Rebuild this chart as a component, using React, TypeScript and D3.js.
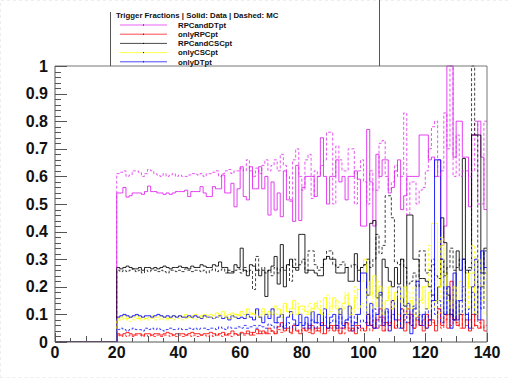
import { useEffect, useRef } from "react"
import * as d3 from "d3"

// bins of width 1 from pt = 20 to 139 (empty below 20)
const firstBin = 20

const rpcAndDtData = [
  0.54, 0.54, 0.56, 0.525, 0.53, 0.54, 0.54, 0.54, 0.535, 0.545,
  0.565, 0.545, 0.545, 0.54, 0.54, 0.535, 0.54, 0.535, 0.54, 0.545,
  0.545, 0.545, 0.55, 0.527, 0.545, 0.545, 0.545, 0.563, 0.54, 0.527,
  0.527, 0.563, 0.555, 0.555, 0.605, 0.54, 0.54, 0.575, 0.49, 0.555,
  0.635, 0.527, 0.515, 0.635, 0.555, 0.555, 0.635, 0.555, 0.6, 0.46,
  0.58, 0.478, 0.54, 0.454, 0.62, 0.515, 0.515, 0.437, 0.64, 0.44,
  0.56, 0.6, 0.6, 0.6, 0.527, 0.6, 0.74, 0.6, 0.5, 0.6,
  0.6, 0.66, 0.58, 0.6, 0.515, 0.6, 0.6, 0.62, 0.59, 0.42,
  0.42, 0.77, 0.58, 0.42, 0.68, 0.6, 0.66, 0.66, 0.54, 0.56,
  0.62, 0.66, 0.48, 0.53, 0.6, 0.6, 0.6, 0.6, 0.75, 0.75,
  0.75, 0.66, 0.67, 0.6, 0.66, 0.35, 0.42, 1.0, 1.0, 0.67,
  0.8, 0.8, 0.67, 0.67, 0.49, 0.75, 0.75, 0.8, 0.67, 0.48,
]
const rpcAndDtMC = [
  0.61, 0.615, 0.62, 0.6, 0.605, 0.62, 0.62, 0.615, 0.6, 0.61,
  0.625, 0.62, 0.61, 0.605, 0.6, 0.61, 0.6, 0.605, 0.61, 0.6,
  0.605, 0.6, 0.6, 0.605, 0.61, 0.61, 0.605, 0.61, 0.6, 0.61,
  0.61, 0.615, 0.62, 0.6, 0.61, 0.62, 0.625, 0.61, 0.62, 0.62,
  0.63, 0.62, 0.66, 0.62, 0.6, 0.63, 0.61, 0.64, 0.66, 0.62,
  0.64, 0.66, 0.62, 0.68, 0.64, 0.6, 0.51, 0.66, 0.7, 0.6,
  0.55, 0.66, 0.68, 0.52, 0.62, 0.6, 0.64, 0.66, 0.76, 0.76,
  0.5, 0.71, 0.66, 0.62, 0.62, 0.7, 0.7, 0.5, 0.62, 0.66,
  0.58, 0.5, 0.62, 0.55, 0.55, 0.72, 0.73, 0.6, 0.55, 0.58,
  0.64, 0.6, 0.6, 0.83, 0.46, 0.58, 0.58, 0.5, 0.55, 0.56,
  0.62, 0.7, 0.78, 0.8, 0.6, 0.62, 0.83, 0.7, 1.0, 0.6,
  0.75, 0.6, 0.62, 0.62, 0.6, 0.62, 0.8, 0.5, 0.5, 0.8,
]
const onlyRpcData = [
  0.03, 0.025, 0.03, 0.035, 0.03, 0.025, 0.03, 0.03, 0.025, 0.03,
  0.03, 0.025, 0.03, 0.03, 0.025, 0.03, 0.035, 0.03, 0.025, 0.03,
  0.03, 0.03, 0.025, 0.03, 0.035, 0.03, 0.03, 0.025, 0.03, 0.03,
  0.035, 0.03, 0.025, 0.03, 0.035, 0.025, 0.03, 0.04, 0.03, 0.025,
  0.035, 0.03, 0.04, 0.025, 0.035, 0.045, 0.03, 0.04, 0.03, 0.05,
  0.04, 0.03, 0.055, 0.07, 0.04, 0.05, 0.035, 0.06, 0.04, 0.03,
  0.05, 0.04, 0.06, 0.03, 0.05, 0.04, 0.07, 0.03, 0.05, 0.06,
  0.04, 0.06, 0.03, 0.05, 0.07, 0.04, 0.05, 0.03, 0.06, 0.05,
  0.04, 0.1, 0.06, 0.05, 0.08, 0.12, 0.04, 0.07, 0.06, 0.15,
  0.05, 0.08, 0.12, 0.04, 0.07, 0.1, 0.05, 0.08, 0.06, 0.04,
  0.1, 0.06, 0.08, 0.04, 0.12, 0.06, 0.1, 0.05, 0.22, 0.08,
  0.06, 0.1, 0.05, 0.08, 0.04, 0.1, 0.06, 0.05, 0.08, 0.04,
]
const onlyRpcMC = [
  0.025, 0.02, 0.025, 0.02, 0.025, 0.02, 0.025, 0.025, 0.02, 0.025,
  0.02, 0.025, 0.02, 0.025, 0.02, 0.025, 0.025, 0.02, 0.025, 0.02,
  0.025, 0.02, 0.025, 0.025, 0.02, 0.025, 0.02, 0.025, 0.025, 0.02,
  0.025, 0.02, 0.03, 0.025, 0.02, 0.03, 0.025, 0.02, 0.03, 0.025,
  0.03, 0.025, 0.03, 0.035, 0.025, 0.03, 0.04, 0.03, 0.035, 0.03,
  0.04, 0.03, 0.045, 0.035, 0.05, 0.04, 0.03, 0.05, 0.04, 0.045,
  0.04, 0.05, 0.035, 0.06, 0.04, 0.05, 0.03, 0.06, 0.04, 0.05,
  0.06, 0.04, 0.05, 0.03, 0.07, 0.05, 0.04, 0.06, 0.05, 0.04,
  0.05, 0.07, 0.04, 0.08, 0.05, 0.06, 0.09, 0.04, 0.07, 0.05,
  0.06, 0.1, 0.05, 0.08, 0.12, 0.06, 0.05, 0.09, 0.06, 0.08,
  0.05, 0.1, 0.07, 0.06, 0.12, 0.05, 0.08, 0.1, 0.06, 0.09,
  0.07, 0.05, 0.1, 0.06, 0.08, 0.05, 0.1, 0.07, 0.05, 0.06,
]
const rpcAndCscData = [
  0.27, 0.265, 0.27, 0.275, 0.27, 0.265, 0.265, 0.27, 0.26, 0.27,
  0.27, 0.265, 0.27, 0.265, 0.27, 0.275, 0.27, 0.265, 0.27, 0.27,
  0.275, 0.27, 0.27, 0.265, 0.275, 0.27, 0.27, 0.28, 0.275, 0.27,
  0.27, 0.28, 0.275, 0.29, 0.27, 0.27, 0.25, 0.25, 0.28, 0.27,
  0.34, 0.26, 0.24, 0.28, 0.275, 0.26, 0.24, 0.26, 0.165, 0.26,
  0.275, 0.31, 0.21, 0.353, 0.2, 0.28, 0.3, 0.27, 0.26, 0.39,
  0.39, 0.25, 0.26, 0.26, 0.25, 0.24, 0.24, 0.3, 0.31, 0.3,
  0.3, 0.25, 0.25, 0.25, 0.27, 0.22, 0.22, 0.32, 0.22, 0.27,
  0.28, 0.17, 0.43, 0.44, 0.16, 0.17, 0.3, 0.27, 0.22, 0.2,
  0.27, 0.21, 0.3, 0.13, 0.46, 0.46, 0.3, 0.3, 0.23, 0.23,
  0.22, 0.2, 0.17, 0.15, 0.2, 0.45, 0.36, 0.17, 0.1, 0.08,
  0.33, 0.26, 0.665, 0.26, 0.26, 0.75, 0.75, 0.75, 0.25, 0.34,
]
const rpcAndCscMC = [
  0.26, 0.255, 0.26, 0.255, 0.26, 0.265, 0.255, 0.26, 0.25, 0.26,
  0.255, 0.26, 0.26, 0.255, 0.26, 0.255, 0.25, 0.26, 0.26, 0.255,
  0.26, 0.255, 0.265, 0.26, 0.255, 0.26, 0.26, 0.255, 0.26, 0.25,
  0.26, 0.265, 0.255, 0.26, 0.265, 0.25, 0.26, 0.255, 0.26, 0.265,
  0.25, 0.27, 0.255, 0.26, 0.19, 0.31, 0.26, 0.27, 0.25, 0.26,
  0.24, 0.27, 0.25, 0.27, 0.26, 0.28, 0.22, 0.3, 0.27, 0.28,
  0.3, 0.26, 0.33, 0.33, 0.28, 0.26, 0.27, 0.3, 0.33, 0.33,
  0.28, 0.27, 0.28, 0.29, 0.27, 0.27, 0.28, 0.28, 0.26, 0.27,
  0.28, 0.3, 0.27, 0.3, 0.39, 0.32, 0.35, 0.53, 0.53, 0.45,
  0.29, 0.28, 0.3, 0.27, 0.21, 0.22, 0.25, 0.2, 0.33, 0.33,
  0.25, 0.26, 0.28, 0.24, 0.23, 0.3, 0.24, 0.27, 0.34, 0.26,
  0.27, 0.3, 0.3, 0.25, 0.27, 1.0, 0.75, 0.2, 0.2, 0.33,
]
const onlyCscData = [
  0.085, 0.09, 0.095, 0.085, 0.09, 0.09, 0.095, 0.085, 0.09, 0.085,
  0.09, 0.095, 0.09, 0.09, 0.095, 0.09, 0.085, 0.09, 0.095, 0.09,
  0.095, 0.09, 0.1, 0.09, 0.095, 0.1, 0.09, 0.095, 0.1, 0.095,
  0.1, 0.095, 0.105, 0.1, 0.11, 0.095, 0.1, 0.105, 0.1, 0.095,
  0.11, 0.1, 0.12, 0.105, 0.1, 0.115, 0.09, 0.12, 0.1, 0.11,
  0.1, 0.13, 0.12, 0.09, 0.14, 0.11, 0.12, 0.15, 0.1, 0.13,
  0.13, 0.11, 0.1, 0.12, 0.14, 0.12, 0.1, 0.16, 0.1, 0.13,
  0.16, 0.12, 0.1, 0.14, 0.17, 0.1, 0.12, 0.16, 0.19, 0.22,
  0.3, 0.22, 0.17, 0.24, 0.13, 0.2, 0.1, 0.15, 0.2, 0.12,
  0.18, 0.1, 0.16, 0.2, 0.12, 0.15, 0.1, 0.08, 0.15, 0.2,
  0.12, 0.18, 0.43, 0.43, 0.2, 0.35, 0.25, 0.1, 0.15, 0.2,
  0.1, 0.22, 0.15, 0.25, 0.2, 0.25, 0.1, 0.2, 0.15, 0.25,
]
const onlyCscMC = [
  0.08, 0.08, 0.085, 0.08, 0.075, 0.08, 0.085, 0.08, 0.08, 0.085,
  0.08, 0.085, 0.08, 0.08, 0.085, 0.08, 0.08, 0.085, 0.08, 0.085,
  0.085, 0.08, 0.085, 0.09, 0.085, 0.08, 0.085, 0.09, 0.085, 0.09,
  0.09, 0.085, 0.09, 0.095, 0.09, 0.09, 0.085, 0.095, 0.09, 0.1,
  0.095, 0.1, 0.09, 0.1, 0.105, 0.09, 0.1, 0.11, 0.095, 0.1,
  0.11, 0.1, 0.12, 0.1, 0.13, 0.11, 0.1, 0.12, 0.14, 0.1,
  0.12, 0.1, 0.14, 0.11, 0.13, 0.15, 0.1, 0.12, 0.17, 0.11,
  0.13, 0.15, 0.1, 0.12, 0.18, 0.13, 0.1, 0.2, 0.12, 0.14,
  0.1, 0.2, 0.18, 0.12, 0.22, 0.16, 0.1, 0.15, 0.18, 0.12,
  0.16, 0.2, 0.14, 0.1, 0.18, 0.12, 0.2, 0.1, 0.16, 0.14,
  0.2, 0.35, 0.12, 0.15, 0.1, 0.38, 0.2, 0.15, 0.12, 0.2,
  0.15, 0.1, 0.2, 0.12, 0.25, 0.35, 0.1, 0.3, 0.2, 0.1,
]
const onlyDtData = [
  0.09, 0.095, 0.1, 0.095, 0.09, 0.095, 0.1, 0.095, 0.09, 0.095,
  0.095, 0.09, 0.095, 0.1, 0.095, 0.09, 0.095, 0.09, 0.095, 0.09,
  0.095, 0.09, 0.09, 0.095, 0.09, 0.095, 0.09, 0.085, 0.095, 0.09,
  0.09, 0.085, 0.09, 0.095, 0.085, 0.09, 0.08, 0.095, 0.09, 0.085,
  0.09, 0.085, 0.1, 0.09, 0.08, 0.12, 0.09, 0.07, 0.1, 0.085,
  0.12, 0.07, 0.09, 0.1, 0.05, 0.09, 0.11, 0.08, 0.06, 0.1,
  0.06, 0.09, 0.05, 0.11, 0.07, 0.1, 0.06, 0.12, 0.05, 0.09,
  0.1, 0.05, 0.12, 0.06, 0.08, 0.13, 0.04, 0.07, 0.1, 0.25,
  0.25, 0.06, 0.14, 0.05, 0.1, 0.18, 0.06, 0.12, 0.04, 0.15,
  0.08, 0.2, 0.05, 0.1, 0.14, 0.03, 0.12, 0.22, 0.06, 0.1,
  0.05, 0.08, 0.15, 0.66, 0.66, 0.3, 0.1, 0.2, 0.05, 0.25,
  0.08, 0.15, 0.3, 0.1, 0.05, 0.2, 0.3, 0.08, 0.33, 0.27,
]
const onlyDtMC = [
  0.045, 0.05, 0.045, 0.04, 0.045, 0.05, 0.045, 0.045, 0.04, 0.05,
  0.045, 0.05, 0.045, 0.05, 0.045, 0.04, 0.045, 0.05, 0.045, 0.045,
  0.05, 0.045, 0.045, 0.05, 0.045, 0.05, 0.045, 0.05, 0.05, 0.045,
  0.05, 0.05, 0.045, 0.055, 0.05, 0.045, 0.055, 0.05, 0.05, 0.055,
  0.05, 0.06, 0.05, 0.055, 0.06, 0.05, 0.06, 0.055, 0.05, 0.065,
  0.06, 0.05, 0.07, 0.055, 0.06, 0.07, 0.05, 0.065, 0.06, 0.07,
  0.05, 0.07, 0.06, 0.08, 0.05, 0.07, 0.06, 0.09, 0.05, 0.07,
  0.08, 0.06, 0.1, 0.05, 0.07, 0.09, 0.06, 0.1, 0.05, 0.08,
  0.07, 0.1, 0.06, 0.12, 0.05, 0.09, 0.07, 0.11, 0.06, 0.1,
  0.08, 0.05, 0.12, 0.07, 0.1, 0.06, 0.13, 0.08, 0.1, 0.06,
  0.12, 0.08, 0.3, 0.1, 0.15, 0.07, 0.2, 0.1, 0.12, 0.08,
  0.15, 0.1, 0.2, 0.08, 0.12, 0.18, 0.1, 0.2, 0.12, 0.25,
]

const legendNames = ["RPCandDTpt", "onlyRPCpt", "RPCandCSCpt", "onlyCSCpt", "onlyDTpt"]
const colors = ["#e020f0", "#ff0000", "#000000", "#ffff00", "#0000ff"]
const dataSeries = [rpcAndDtData, onlyRpcData, rpcAndCscData, onlyCscData, onlyDtData]
const mcSeries = [rpcAndDtMC, onlyRpcMC, rpcAndCscMC, onlyCscMC, onlyDtMC]

const xTicks = [0, 20, 40, 60, 80, 100, 120, 140]
const yTicks = [0, 0.1, 0.2, 0.3, 0.4, 0.5, 0.6, 0.7, 0.8, 0.9, 1]

export default function App() {
  const svgRef = useRef<SVGSVGElement>(null)

  useEffect(() => {
    if (!svgRef.current) return
    const svg = d3.select(svgRef.current)
    svg.selectAll("*").remove()

    const width = 510
    const height = 382
    const frame = { left: 55, right: 487, top: 66, bottom: 342 }

    const x = d3.scaleLinear().domain([0, 140]).range([frame.left, frame.right])
    const y = d3.scaleLinear().domain([0, 1]).range([frame.bottom, frame.top])

    svg.append("rect").attr("width", width).attr("height", height).attr("fill", "#fff")
    // faint outer border
    svg.append("path")
      .attr("d", `M0.5,378V0.5H${width - 0.5}M0.5,377.5H${width - 0.5}`)
      .attr("fill", "none").attr("stroke", "#eeeeee").attr("stroke-dasharray", "3,3")

    svg.append("clipPath").attr("id", "plotclip")
      .append("rect")
      .attr("x", frame.left).attr("y", frame.top - 1)
      .attr("width", frame.right - frame.left).attr("height", frame.bottom - frame.top + 1)

    const step = d3.line<[number, number]>()
      .x((d) => x(d[0]))
      .y((d) => y(d[1]))
      .curve(d3.curveStepAfter)

    const histPoints = (vals: number[]): [number, number][] => {
      const pts: [number, number][] = [[0, 0]]
      vals.forEach((v, i) => pts.push([firstBin + i, v]))
      pts.push([firstBin + vals.length, vals[vals.length - 1]])
      return pts
    }

    const plot = svg.append("g").attr("clip-path", "url(#plotclip)")
    dataSeries.forEach((vals, i) => {
      plot.append("path")
        .attr("d", step(histPoints(vals)))
        .attr("fill", "none")
        .attr("stroke", colors[i])
        .attr("stroke-width", 1)
        .attr("opacity", 0.85)
    })
    mcSeries.forEach((vals, i) => {
      plot.append("path")
        .attr("d", step(histPoints(vals)))
        .attr("fill", "none")
        .attr("stroke", colors[i])
        .attr("stroke-width", 1)
        .attr("stroke-dasharray", "3,2")
        .attr("opacity", 0.75)
    })

    // frame
    svg.append("path")
      .attr("d", `M${frame.left},${frame.top}H${frame.right}V${frame.bottom}`)
      .attr("fill", "none").attr("stroke", "#777")
    svg.append("path")
      .attr("d", `M${frame.left},${frame.top}V${frame.bottom}H${frame.right}`)
      .attr("fill", "none").attr("stroke", "#555")

    const labelFont = "Liberation Sans, Arial, sans-serif"

    // y ticks (inside)
    const yMinor = d3.range(0, 1.0001, 0.02)
    svg.append("g").selectAll("line").data(yMinor).enter().append("line")
      .attr("x1", frame.left).attr("x2", (d) => frame.left + (Math.abs(d * 10 - Math.round(d * 10)) < 1e-6 ? 12 : 6))
      .attr("y1", (d) => Math.round(y(d)) + 0.5).attr("y2", (d) => Math.round(y(d)) + 0.5)
      .attr("stroke", "#555")
    svg.append("g").selectAll("text").data(yTicks).enter().append("text")
      .attr("x", frame.left - 7)
      .attr("y", (d) => y(d) + 5.5)
      .attr("text-anchor", "end")
      .attr("font-family", labelFont)
      .attr("font-weight", "bold")
      .attr("font-size", "16px")
      .attr("fill", "#111")
      .text((d) => d3.format("~g")(d))

    // x ticks (inside)
    const xMinor = d3.range(0, 140.001, 5)
    svg.append("g").selectAll("line").data(xMinor).enter().append("line")
      .attr("x1", (d) => Math.round(x(d)) + 0.5).attr("x2", (d) => Math.round(x(d)) + 0.5)
      .attr("y1", frame.bottom)
      .attr("y2", (d) => frame.bottom - (d % 20 === 0 ? 9 : d % 10 === 0 ? 6 : 4))
      .attr("stroke", "#555")
    svg.append("g").selectAll("text").data(xTicks).enter().append("text")
      .attr("x", (d) => x(d))
      .attr("y", 358)
      .attr("text-anchor", "middle")
      .attr("font-family", labelFont)
      .attr("font-weight", "bold")
      .attr("font-size", "16px")
      .attr("fill", "#111")
      .text((d) => d)

    // legend
    const lg = svg.append("g")
    lg.append("path")
      .attr("d", `M110.5,12V${frame.top}M379.5,0V${frame.top}`)
      .attr("stroke", "#555").attr("fill", "none")
    lg.append("text")
      .attr("x", 116).attr("y", 18)
      .attr("font-family", labelFont)
      .attr("font-weight", "bold").attr("font-size", "7.8px").attr("fill", "#111")
      .text("Trigger Fractions | Solid: Data | Dashed: MC")
    legendNames.forEach((name, i) => {
      const ly = 25 + i * 9.2
      lg.append("line")
        .attr("x1", 120).attr("x2", 167).attr("y1", ly).attr("y2", ly)
        .attr("stroke", colors[i]).attr("opacity", 0.7)
      lg.append("rect")
        .attr("x", 143).attr("y", ly - 0.5).attr("width", 1).attr("height", 1).attr("fill", "#000")
      lg.append("text")
        .attr("x", 178).attr("y", ly + 2.8)
        .attr("font-family", labelFont)
        .attr("font-weight", "bold").attr("font-size", "7.8px").attr("fill", "#111")
        .text(name)
    })
  }, [])

  return (
    <div style={{ position: "absolute", left: 0, top: 0 }}>
      <svg ref={svgRef} width={510} height={382} />
    </div>
  )
}
